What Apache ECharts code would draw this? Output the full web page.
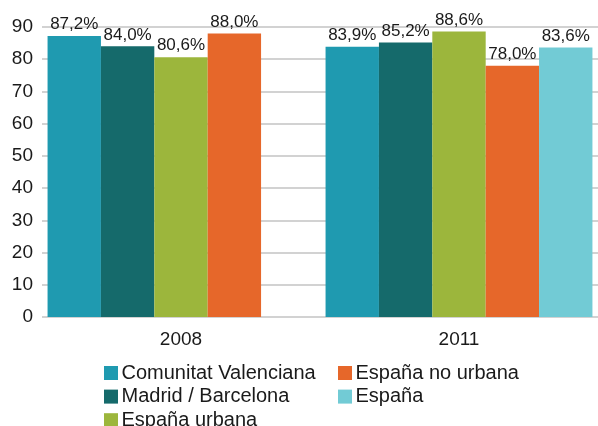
<!DOCTYPE html>
<html lang="es">
<head>
    <meta charset="UTF-8">
    <title>Comparación 2008 / 2011</title>
    <script type="text/javascript" src="https://cdn.jsdelivr.net/npm/echarts@6/dist/echarts.min.js"></script>
    <style>
        html, body { margin: 0; padding: 0; background: #fff; }
    </style>
</head>
<body>
    <div id="charts" style="width:598px;height:426px;"></div>
</body>
<script type="text/javascript">
    // datos
    var years = ['2008', '2011'];
    var seriesNames = ['Comunitat Valenciana', 'Madrid / Barcelona', 'España urbana', 'España no urbana', 'España'];
    var valCV = [87.2, 83.9];
    var valMB = [84.0, 85.2];
    var valEU = [80.6, 88.6];
    var valENU = [88.0, 78.0];
    var valES = [null, 83.6];
    var colors = ['#1f9ab0', '#156a6b', '#9cb63c', '#e6672a', '#72cbd5'];

    var allValues = [valCV, valMB, valEU, valENU, valES];
    var font = "'Liberation Sans', Arial, sans-serif";

    var myChart = echarts.init(document.getElementById('charts'));

    var series = seriesNames.map(function (name, i) {
        return {
            name: name,
            type: 'bar',
            data: allValues[i],
            barGap: 0,
            barCategoryGap: '4%',
            itemStyle: { color: colors[i] },
            label: {
                show: true,
                position: 'top',
                distance: 3,
                fontFamily: font,
                fontSize: 17,
                color: '#1a1a1a',
                formatter: function (p) {
                    return p.value.toFixed(1).replace('.', ',') + '%';
                }
            }
        };
    });

    // leyenda en dos columnas
    var legendCommon = {
        orient: 'vertical',
        top: 363,
        height: 100,
        itemWidth: 14,
        itemHeight: 14,
        itemGap: 3.6,
        icon: 'rect',
        textStyle: { fontFamily: font, fontSize: 20, color: '#1a1a1a', lineHeight: 20, padding: [0, 0, 0, -1.5] },
        padding: 0
    };

    option = {
        animation: false,
        textStyle: { fontFamily: font },
        grid: { left: 42, right: -4, top: 27, bottom: 109, containLabel: false },
        legend: [
            Object.assign({}, legendCommon, { left: 104, data: seriesNames.slice(0, 3) }),
            Object.assign({}, legendCommon, { left: 338, data: seriesNames.slice(3) })
        ],
        xAxis: {
            type: 'category',
            data: years,
            axisLine: { show: false },
            axisTick: { show: false },
            axisLabel: { fontFamily: font, fontSize: 19, color: '#1a1a1a', margin: 13 }
        },
        yAxis: {
            type: 'value',
            min: 0,
            max: 90,
            interval: 10,
            axisLine: { show: false },
            axisTick: { show: false },
            axisLabel: { fontFamily: font, fontSize: 19, color: '#1a1a1a', margin: 9 },
            splitLine: { lineStyle: { color: '#d2d2d2', width: 1.8 } }
        },
        series: series
    };

    myChart.setOption(option);
</script>
</html>
